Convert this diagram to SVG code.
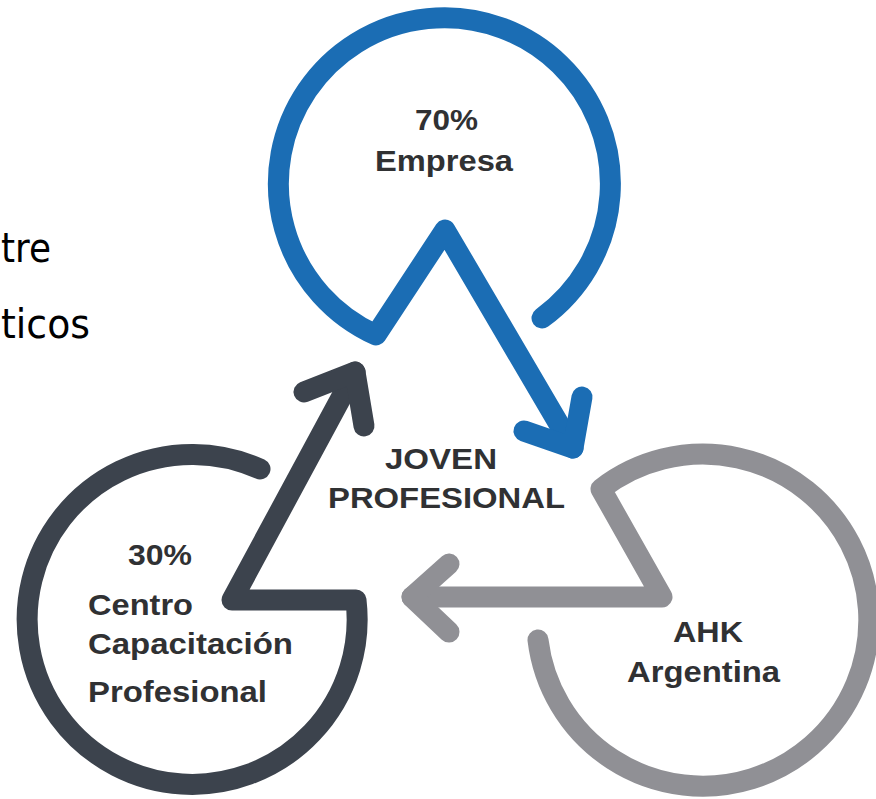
<svg xmlns="http://www.w3.org/2000/svg" width="876" height="799" viewBox="0 0 876 799">
<style>
  .ring { fill: none; stroke-width: 21; stroke-linecap: round; stroke-linejoin: round; }
  .blue { stroke: #1b6db4; }
  .dark { stroke: #3c434d; }
  .light { stroke: #909095; }
  .lbl { font-family: "Liberation Sans", Arial, sans-serif; font-weight: bold; font-size: 30px; fill: #303133; }
  .side { font-family: "DejaVu Sans", Verdana, sans-serif; font-size: 40px; fill: #000; }
</style>
<rect width="876" height="799" fill="#ffffff"/>
<g id="side-text">
  <text class="side" x="1" y="262" textLength="50" lengthAdjust="spacingAndGlyphs">tre</text>
  <text class="side" x="1" y="338" textLength="89" lengthAdjust="spacingAndGlyphs">ticos</text>
</g>
<g id="connectors">
  <path class="ring blue" d="M 542 318 A 166 166 0 1 0 376 335 L 445 230 L 573 448"/>
  <path class="ring blue" d="M 524 431 L 573 448 L 582 397"/>
  <path class="ring dark" d="M 260 469 A 165 165 0 1 0 356 600 L 232 600 L 355 372"/>
  <path class="ring dark" d="M 304 392 L 355 372 L 364 426"/>
  <path class="ring light" d="M 538 640 A 166 166 0 1 0 601 489 L 662 597 L 412 597"/>
  <path class="ring light" d="M 449 564 L 412 597 L 449 632"/>
</g>
<g id="node-empresa">
  <text class="lbl" x="415" y="130" textLength="63" lengthAdjust="spacingAndGlyphs">70%</text>
  <text class="lbl" x="375" y="171" textLength="138" lengthAdjust="spacingAndGlyphs">Empresa</text>
</g>
<g id="node-joven">
  <text class="lbl" x="385" y="469" textLength="112" lengthAdjust="spacingAndGlyphs">JOVEN</text>
  <text class="lbl" x="328" y="508" textLength="237" lengthAdjust="spacingAndGlyphs">PROFESIONAL</text>
</g>
<g id="node-centro">
  <text class="lbl" x="128" y="565" textLength="64" lengthAdjust="spacingAndGlyphs">30%</text>
  <text class="lbl" x="88" y="615" textLength="105" lengthAdjust="spacingAndGlyphs">Centro</text>
  <text class="lbl" x="88" y="654" textLength="205" lengthAdjust="spacingAndGlyphs">Capacitación</text>
  <text class="lbl" x="88" y="702" textLength="179" lengthAdjust="spacingAndGlyphs">Profesional</text>
</g>
<g id="node-ahk">
  <text class="lbl" x="673" y="642" textLength="70" lengthAdjust="spacingAndGlyphs">AHK</text>
  <text class="lbl" x="627" y="682" textLength="153" lengthAdjust="spacingAndGlyphs">Argentina</text>
</g>
</svg>
